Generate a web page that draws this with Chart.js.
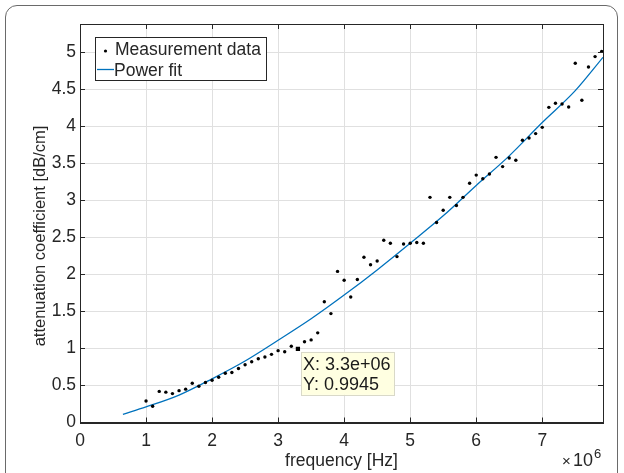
<!DOCTYPE html>
<html>
<head>
<meta charset="utf-8">
<script src="https://cdn.jsdelivr.net/npm/chart.js@4.4.1/dist/chart.umd.min.js"></script>
<style>
html, body { margin: 0; padding: 0; background: #fff; }
#wrap { position: relative; width: 624px; height: 473px; overflow: hidden; }
#frame { position: absolute; left: 5px; top: 5px; width: 613px; height: 530px; border: 1.5px solid #6a6a6a; border-radius: 12px; box-sizing: border-box; }
#c { position: absolute; left: 0; top: 0; }
</style>
</head>
<body>
<div id="wrap">
	<div id="frame"></div>
	<canvas id="c" width="624" height="473"></canvas>
</div>
<script>
// measurement data, frequency in units of 1e6 Hz
const freqMHz = [1.0, 1.1, 1.2, 1.3, 1.4, 1.5, 1.6, 1.7, 1.8, 1.9,
	2.0, 2.1, 2.2, 2.3, 2.4, 2.5, 2.6, 2.7, 2.8, 2.9,
	3.0, 3.1, 3.2, 3.3, 3.4, 3.5, 3.6, 3.7, 3.8, 3.9,
	4.0, 4.1, 4.2, 4.3, 4.4, 4.5, 4.6, 4.7, 4.8, 4.9,
	5.0, 5.1, 5.2, 5.3, 5.4, 5.5, 5.6, 5.7, 5.8, 5.9,
	6.0, 6.1, 6.2, 6.3, 6.4, 6.5, 6.6, 6.7, 6.8, 6.9,
	7.0, 7.1, 7.2, 7.3, 7.4, 7.5, 7.6, 7.7, 7.8, 7.9];
const attenuation = [0.29, 0.22, 0.42, 0.41, 0.39, 0.43, 0.45, 0.53, 0.49, 0.54,
	0.57, 0.61, 0.665, 0.675, 0.73, 0.78, 0.82, 0.86, 0.885, 0.92,
	0.97, 0.955, 1.03, 0.9945, 1.09, 1.115, 1.21, 1.63, 1.47, 2.04,
	1.92, 1.695, 1.93, 2.23, 2.13, 2.18, 2.46, 2.42, 2.24, 2.41,
	2.42, 2.43, 2.42, 3.04, 2.70, 2.865, 3.04, 2.93, 3.04, 3.23,
	3.34, 3.29, 3.355, 3.58, 3.455, 3.57, 3.54, 3.81, 3.84, 3.90,
	3.985, 4.255, 4.31, 4.30, 4.26, 4.85, 4.35, 4.80, 4.94, 5.01];

// power fit curve
const fitFreqMHz = [0.65, 1.0, 1.5, 2.0, 2.5, 3.0, 3.5, 4.0, 4.5, 5.0, 5.5, 6.0, 6.5, 7.0, 7.5, 7.92];
const fitAttenuation = [0.11, 0.21, 0.37, 0.59, 0.83, 1.11, 1.40, 1.72, 2.06, 2.42, 2.79, 3.20, 3.60, 4.05, 4.48, 4.93];

// data tip
const tipFreqMHz = [3.3];
const tipValue = [0.9945];
const tipLabels = ['X: 3.3e+06', 'Y: 0.9945'];

const legendLabels = ['Measurement data', 'Power fit'];
const xTitle = 'frequency [Hz]';
const yTitle = 'attenuation coefficient [dB/cm]';

const FONT = '"Liberation Sans", Arial, Helvetica, sans-serif';
const AXIS_COLOR = '#262626';
const FIT_COLOR = '#0072BD';

function toPoints(xs, ys){
	return xs.map((x, i) => ({x: x, y: ys[i]}));
}

function tickText(v){
	return String(Math.round(v * 10) / 10);
}

const decorPlugin = {
	id: 'decor',
	afterDraw(chart){
		const ctx = chart.ctx;
		const a = chart.chartArea;
		const xs = chart.scales.x;
		const ys = chart.scales.y;
		ctx.save();

		// box + inward ticks
		ctx.strokeStyle = AXIS_COLOR;
		ctx.lineWidth = 1;
		ctx.strokeRect(Math.round(a.left) + 0.5, Math.round(a.top) + 0.5, Math.round(a.right - a.left), Math.round(a.bottom - a.top));
		ctx.beginPath();
		xs.ticks.forEach((t)=>{
			const px = Math.round(xs.getPixelForValue(t.value)) + 0.5;
			ctx.moveTo(px, a.bottom); ctx.lineTo(px, a.bottom - 5);
			ctx.moveTo(px, a.top); ctx.lineTo(px, a.top + 5);
		});
		ys.ticks.forEach((t)=>{
			const py = Math.round(ys.getPixelForValue(t.value)) + 0.5;
			ctx.moveTo(a.left, py); ctx.lineTo(a.left + 5, py);
			ctx.moveTo(a.right, py); ctx.lineTo(a.right - 5, py);
		});
		ctx.stroke();

		// axis titles
		ctx.fillStyle = AXIS_COLOR;
		ctx.font = '17.5px ' + FONT;
		ctx.textAlign = 'center';
		ctx.textBaseline = 'alphabetic';
		ctx.fillText(xTitle, (a.left + a.right) / 2, 466);
		ctx.save();
		ctx.translate(40, 236);
		ctx.rotate(-Math.PI / 2);
		ctx.textBaseline = 'middle';
		ctx.font = '16.5px ' + FONT;
		ctx.fillText(yTitle, 0, 0);
		ctx.restore();

		// exponent label
		ctx.textAlign = 'left';
		ctx.font = '15px ' + FONT;
		ctx.fillText('\u00d7', 562, 466);
		ctx.font = '18px ' + FONT;
		ctx.fillText('10', 573, 466);
		ctx.font = '13px ' + FONT;
		ctx.fillText('6', 594, 458);

		// legend
		const lx = a.left + 15, ly = a.top + 13;
		ctx.fillStyle = '#ffffff';
		ctx.fillRect(lx, ly, 171, 43);
		ctx.strokeStyle = AXIS_COLOR;
		ctx.strokeRect(lx + 0.5, ly + 0.5, 171, 43);
		ctx.fillStyle = '#000';
		ctx.beginPath();
		ctx.arc(lx + 10.5, ly + 14, 1.6, 0, Math.PI * 2);
		ctx.fill();
		ctx.strokeStyle = FIT_COLOR;
		ctx.lineWidth = 1.3;
		ctx.beginPath();
		ctx.moveTo(lx + 2, ly + 32.5); ctx.lineTo(lx + 19, ly + 32.5);
		ctx.stroke();
		ctx.fillStyle = AXIS_COLOR;
		ctx.font = '17.5px ' + FONT;
		ctx.textBaseline = 'middle';
		ctx.fillText(legendLabels[0], lx + 20, ly + 13);
		ctx.fillText(legendLabels[1], lx + 19, ly + 34);

		// data tip box
		const tx = xs.getPixelForValue(tipFreqMHz[0]);
		const ty = ys.getPixelForValue(tipValue[0]);
		ctx.fillStyle = '#ffffe1';
		ctx.fillRect(tx + 3, ty + 3, 93, 43);
		ctx.strokeStyle = '#d9d9c8';
		ctx.lineWidth = 1;
		ctx.strokeRect(Math.round(tx + 3) + 0.5, Math.round(ty + 3) + 0.5, 93, 43);
		ctx.fillStyle = '#1a1a1a';
		ctx.textAlign = 'left';
		ctx.font = '18px ' + FONT;
		ctx.fillText(tipLabels[0], tx + 5, ty + 16);
		ctx.fillText(tipLabels[1], tx + 5, ty + 36);

		ctx.restore();
	}
};

new Chart(document.getElementById('c'), {
	type: 'scatter',
	data: {
		datasets: [
			{
				label: legendLabels[0],
				data: toPoints(freqMHz, attenuation),
				pointRadius: 1.7,
				pointBorderWidth: 0,
				backgroundColor: '#000',
				borderColor: '#000'
			},
			{
				label: legendLabels[1],
				data: toPoints(fitFreqMHz, fitAttenuation),
				showLine: true,
				cubicInterpolationMode: 'monotone',
				pointRadius: 0,
				borderColor: FIT_COLOR,
				borderWidth: 1.3
			},
			{
				label: 'tip',
				data: toPoints(tipFreqMHz, tipValue),
				pointStyle: 'rect',
				pointRadius: 3,
				pointBorderWidth: 0,
				backgroundColor: '#000'
			}
		]
	},
	options: {
		responsive: false,
		animation: false,
		events: [],
		layout: { padding: { left: 0, right: 21, top: 24, bottom: 0 } },
		plugins: {
			legend: { display: false },
			tooltip: { enabled: false }
		},
		scales: {
			x: {
				type: 'linear',
				min: 0,
				max: 7.92,
				afterFit: (scale)=>{ scale.height = 50.5; },
				ticks: {
					stepSize: 1,
					includeBounds: false,
					padding: 8,
					color: AXIS_COLOR,
					font: { family: FONT, size: 17.5 },
					callback: tickText
				},
				grid: { color: '#e0e0e0', drawTicks: false },
				border: { color: AXIS_COLOR, width: 1 }
			},
			y: {
				min: 0,
				max: 5.38,
				afterFit: (scale)=>{ scale.width = 80; },
				ticks: {
					stepSize: 0.5,
					includeBounds: false,
					padding: 4,
					color: AXIS_COLOR,
					font: { family: FONT, size: 17.5 },
					callback: tickText
				},
				grid: { color: '#e0e0e0', drawTicks: false },
				border: { color: AXIS_COLOR, width: 1 }
			}
		}
	},
	plugins: [decorPlugin]
});
</script>
</body>
</html>
